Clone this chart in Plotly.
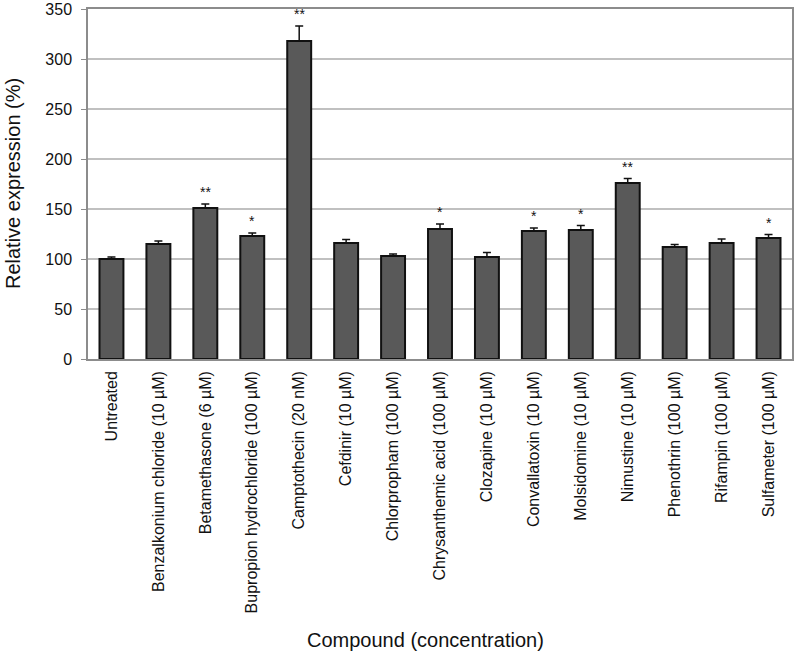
import plotly.graph_objects as go

# --- DATA ---
compounds = [
    "Untreated",
    "Benzalkonium chloride (10 µM)",
    "Betamethasone (6 µM)",
    "Bupropion hydrochloride (100 µM)",
    "Camptothecin (20 nM)",
    "Cefdinir (10 µM)",
    "Chlorpropham (100 µM)",
    "Chrysanthemic acid (100 µM)",
    "Clozapine (10 µM)",
    "Convallatoxin (10 µM)",
    "Molsidomine (10 µM)",
    "Nimustine (10 µM)",
    "Phenothrin (100 µM)",
    "Rifampin (100 µM)",
    "Sulfameter (100 µM)",
]
expression = [100, 115, 151, 123, 318, 116, 103, 130, 102, 128, 129, 176, 112, 116, 121]
error = [2, 3, 4, 3, 15, 3.5, 2, 5, 4.5, 3, 4.5, 4.5, 2.5, 4, 3.5]
significance = ["", "", "**", "*", "**", "", "", "*", "", "*", "*", "**", "", "", "*"]

FONT = "Liberation Sans, Arial, sans-serif"

fig = go.Figure()

fig.add_trace(go.Bar(
    x=compounds,
    y=expression,
    marker=dict(color="#595959", line=dict(color="#111111", width=2)),
    error_y=dict(type="data", array=error, arrayminus=[0] * len(error), symmetric=False,
                 color="#111111", thickness=1.5, width=4),
    showlegend=False,
))

# significance stars above the error bars
for name, val, err, sig in zip(compounds, expression, error, significance):
    if sig:
        fig.add_annotation(x=name, y=val + err, text=sig, showarrow=False,
                           yanchor="bottom", yshift=2,
                           font=dict(family=FONT, size=14, color="#111111"))

# axis titles placed as in the original
fig.add_annotation(text="Relative expression (%)", xref="paper", yref="paper",
                   x=-0.1065, y=0.5, textangle=-90, showarrow=False,
                   xanchor="center", yanchor="middle",
                   font=dict(family=FONT, size=20, color="#111111"))
fig.add_annotation(text="Compound (concentration)", xref="paper", yref="paper",
                   x=0.479, y=-0.803, showarrow=False,
                   xanchor="center", yanchor="middle",
                   font=dict(family=FONT, size=20, color="#111111"))

fig.update_layout(
    width=797, height=654,
    margin=dict(l=88, r=5, t=9, b=295),
    plot_bgcolor="white", paper_bgcolor="white",
    bargap=0.49,
    font=dict(family=FONT, color="#111111"),
    xaxis=dict(
        tickangle=-90, tickfont=dict(size=16), automargin=False,
        ticklabelstandoff=4,
        showline=True, linecolor="#8c8c8c", linewidth=1.5, mirror=True,
        ticks="",
    ),
    yaxis=dict(
        range=[0, 350.01], tickvals=[0, 50, 100, 150, 200, 250, 300, 350],
        tickfont=dict(size=16), automargin=False,
        ticklabelstandoff=6,
        showline=True, linecolor="#8c8c8c", linewidth=1.5, mirror=True,
        ticks="outside", ticklen=5, tickcolor="#8c8c8c",
        showgrid=True, gridcolor="#c0c0c0", gridwidth=1.5,
        zeroline=False,
    ),
)

# drop the browser's default page margin so the figure fills the window
fig.write_html("out.html", config={"displayModeBar": False},
               post_script="document.body.style.margin = '0';")
